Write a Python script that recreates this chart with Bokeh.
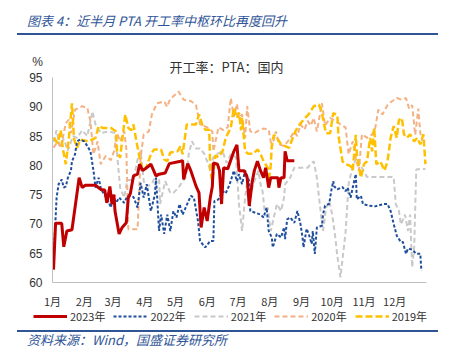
from bokeh.plotting import figure
from bokeh.models import Legend, LegendItem, Label, FixedTicker, Div, Range1d
from bokeh.layouts import column
from bokeh.embed import file_html
from bokeh.resources import INLINE

# ---------------- data (day of year, operating rate %) ----------------
month_ticks = [1, 32, 60, 91, 121, 152, 182, 213, 244, 274, 305, 335]
month_labels = ["1月", "2月", "3月", "4月", "5月", "6月", "7月", "8月", "9月", "10月", "11月", "12月"]
y_ticks = [60, 65, 70, 75, 80, 85, 90, 95]

series_names = ["2023年", "2022年", "2021年", "2020年", "2019年"]

days_2023 = [2, 4, 10, 12, 15, 20, 27, 30, 33, 43, 48, 52, 54, 57, 59, 61, 62, 66, 69, 73, 75, 77, 80, 84,
             86, 89, 95, 97, 102, 105, 111, 115, 126, 128, 129, 133, 136, 141, 144, 146, 149, 152, 155,
             157, 158, 162, 164, 166, 168, 172, 178, 181, 183, 188, 191, 193, 196, 198, 201, 204, 207,
             209, 212, 214, 221, 222, 224, 227, 228, 230, 237]
rate_2023 = [62.2, 70.1, 70.1, 66.1, 68.8, 69.0, 77.9, 76.2, 76.6, 76.6, 75.9, 75.8, 73.6, 76.4, 73.4,
             75.0, 72.2, 68.3, 69.4, 70.2, 74.5, 75.2, 78.2, 78.5, 80.2, 79.1, 79.9, 80.2, 78.2, 78.5,
             78.7, 80.3, 80.7, 80.8, 77.6, 80.3, 79.1, 76.5, 75.3, 69.4, 72.8, 70.5, 74.5, 76.4, 80.4,
             80.2, 79.1, 73.4, 79.6, 79.4, 82.4, 83.5, 79.1, 79.1, 77.9, 73.1, 77.3, 79.1, 80.7, 79.1,
             77.9, 79.6, 76.2, 77.9, 77.9, 76.2, 77.9, 77.9, 82.4, 80.8, 80.8]

days_2022 = [2, 5, 7, 10, 12, 14, 16, 19, 20, 23, 25, 28, 32, 35, 38, 41, 43, 46, 48, 51, 54, 58, 60, 63,
             66, 71, 74, 80, 84, 87, 90, 93, 97, 101, 102, 105, 107, 110, 113, 116, 119, 122, 125, 128,
             131, 136, 139, 143, 145, 150, 155, 158, 159, 163, 167, 170, 174, 178, 181, 183, 186, 189,
             193, 194, 199, 204, 207, 210, 212, 215, 216, 220, 224, 227, 228, 230, 233, 237, 240, 243,
             245, 246, 249, 251, 254, 255, 257, 259, 264, 265, 267, 271, 273, 275, 276, 279, 284, 287,
             289, 292, 294, 297, 298, 302, 304, 310, 316, 324, 328, 331, 334, 337, 341, 343, 346, 348,
             352, 356, 360, 361]
rate_2022 = [63.8, 74.5, 76.8, 77.6, 76.2, 76.4, 77.9, 79.1, 80.7, 81.9, 84.1, 84.4, 84.1, 83.3, 82.4,
             79.1, 76.2, 77.9, 76.2, 75.1, 74.5, 72.8, 74.8, 73.6, 74.5, 73.6, 74.8, 74.6, 72.8, 77.0,
             74.5, 76.8, 72.2, 75.1, 77.9, 68.8, 71.6, 68.3, 71.6, 68.8, 72.2, 71.1, 73.4, 71.6, 72.8,
             74.8, 74.5, 70.5, 67.1, 66.0, 67.1, 67.1, 73.9, 74.2, 75.6, 75.2, 76.8, 79.1, 77.3, 78.5,
             76.8, 79.1, 77.3, 72.2, 71.9, 71.6, 71.1, 72.8, 68.8, 67.7, 66.0, 68.3, 67.7, 69.4, 67.4,
             70.8, 71.1, 70.2, 72.2, 70.0, 67.7, 66.0, 69.2, 68.3, 66.6, 68.8, 64.9, 69.4, 69.7, 71.6,
             73.1, 73.4, 75.6, 77.3, 76.4, 75.9, 76.3, 75.6, 76.2, 74.5, 76.2, 78.5, 74.2, 74.8, 73.4,
             73.1, 73.0, 73.4, 73.4, 72.2, 70.0, 68.0, 66.9, 66.9, 64.9, 65.8, 65.6, 64.9, 64.9, 62.0]

days_2021 = [2, 5, 8, 12, 16, 21, 25, 30, 35, 40, 43, 48, 56, 62, 64, 67, 71, 74, 80, 84, 87, 90, 93, 98,
             102, 105, 106, 111, 116, 119, 124, 128, 131, 134, 137, 141, 145, 149, 152, 155, 158, 162,
             167, 171, 175, 180, 183, 186, 189, 191, 194, 198, 202, 204, 206, 208, 211, 214, 217, 220,
             224, 227, 228, 233, 237, 245, 250, 253, 256, 259, 263, 265, 268, 271, 274, 277, 279, 282,
             287, 290, 294, 298, 303, 308, 334, 336, 339, 341, 345, 348, 350, 352, 354, 356, 360, 365]
rate_2021 = [84.0, 86.0, 83.3, 84.5, 82.5, 85.0, 84.7, 86.0, 85.0, 89.2, 87.0, 85.5, 85.8, 85.5, 82.0,
             76.2, 74.5, 77.5, 77.5, 81.0, 82.5, 77.3, 76.4, 76.8, 78.5, 77.9, 73.4, 77.3, 75.3, 75.3,
             76.2, 77.3, 77.9, 81.9, 84.1, 82.9, 82.9, 82.0, 80.7, 79.1, 81.4, 82.0, 82.4, 80.4, 81.9,
             81.4, 73.4, 68.8, 74.5, 77.3, 75.1, 77.3, 79.1, 76.8, 75.6, 72.2, 72.8, 68.8, 71.1, 73.4,
             72.2, 74.5, 76.8, 77.9, 79.6, 79.6, 79.6, 80.2, 80.7, 77.9, 71.6, 68.8, 72.8, 73.9, 71.6,
             67.7, 64.5, 60.9, 68.5, 76.8, 79.9, 81.3, 79.6, 78.0, 78.0, 73.4, 72.3, 69.9, 71.6, 68.8,
             71.6, 62.6, 66.0, 79.3, 79.4, 79.4]

days_2020 = [2, 6, 9, 14, 17, 19, 23, 30, 35, 38, 41, 45, 48, 53, 58, 61, 64, 67, 71, 73, 75, 84, 87, 90,
             95, 98, 103, 110, 113, 115, 119, 124, 129, 136, 141, 145, 152, 157, 158, 163, 168, 172,
             175, 178, 181, 183, 186, 189, 191, 194, 198, 201, 204, 207, 212, 215, 219, 222, 227, 232,
             237, 240, 243, 247, 250, 253, 256, 259, 264, 267, 272, 277, 282, 287, 290, 294, 297, 300,
             303, 308, 313, 316, 319, 323, 328, 332, 337, 342, 346, 349, 352, 355, 358, 360, 362]
rate_2020 = [83.0, 84.1, 83.0, 87.2, 87.8, 85.5, 89.5, 90.1, 89.8, 87.5, 81.9, 84.1, 80.2, 81.6, 80.9,
             82.4, 85.5, 84.1, 85.8, 83.0, 69.1, 69.1, 81.3, 85.3, 85.8, 88.7, 90.6, 90.9, 90.0, 91.0,
             91.8, 92.6, 91.2, 91.0, 90.3, 87.0, 86.5, 85.8, 82.4, 86.5, 86.0, 86.5, 91.5, 88.3, 90.5,
             88.1, 88.7, 84.7, 90.1, 85.8, 85.5, 85.8, 86.1, 86.3, 86.1, 83.0, 85.8, 83.6, 83.3, 84.4,
             85.8, 85.0, 87.0, 86.1, 87.6, 86.8, 88.1, 85.8, 90.6, 86.8, 88.1, 87.6, 87.0, 86.5, 81.9,
             84.1, 81.3, 79.1, 85.3, 84.7, 85.3, 86.4, 89.5, 88.7, 90.3, 90.9, 91.5, 91.2, 91.5, 89.7,
             90.3, 85.2, 89.7, 85.5, 84.1]

days_2019 = [2, 6, 9, 11, 14, 17, 20, 22, 25, 28, 36, 43, 46, 50, 58, 63, 64, 67, 72, 75, 78, 80, 83, 86,
             89, 92, 97, 100, 107, 110, 113, 116, 123, 126, 128, 132, 141, 144, 147, 150, 154, 155, 157,
             160, 163, 167, 170, 175, 178, 181, 183, 185, 186, 189, 192, 197, 201, 204, 207, 211, 212,
             214, 215, 217, 220, 224, 228, 232, 235, 238, 241, 246, 251, 256, 261, 264, 266, 268, 272,
             275, 279, 280, 284, 287, 292, 294, 297, 298, 302, 305, 308, 311, 313, 315, 317, 321, 325,
             328, 331, 334, 337, 339, 342, 344, 347, 350, 354, 357, 360, 363, 365]
rate_2019 = [84.7, 83.8, 86.0, 83.0, 80.2, 84.7, 90.6, 84.5, 83.0, 84.4, 84.1, 84.7, 86.7, 86.4, 86.4,
             85.8, 82.4, 81.3, 88.7, 86.4, 86.0, 87.0, 84.0, 81.3, 79.1, 79.4, 81.9, 82.7, 82.7, 81.0,
             80.7, 82.2, 82.4, 83.3, 81.9, 87.0, 87.0, 88.7, 87.0, 86.1, 86.1, 79.1, 77.3, 81.7, 81.4,
             82.4, 84.7, 86.4, 89.8, 88.1, 89.0, 86.0, 88.1, 82.4, 82.0, 82.0, 82.7, 82.0, 80.7, 79.6,
             77.3, 80.0, 83.3, 85.2, 84.7, 83.6, 83.3, 83.0, 84.5, 85.8, 86.7, 87.8, 88.7, 90.1, 90.4,
             89.0, 87.0, 85.5, 85.5, 88.9, 88.6, 85.2, 80.7, 80.2, 79.9, 79.1, 85.2, 81.9, 77.9, 80.2,
             80.7, 84.7, 82.4, 86.4, 80.2, 80.7, 79.1, 80.7, 84.7, 86.7, 84.7, 87.7, 88.1, 85.3, 84.7,
             85.3, 84.1, 84.7, 83.6, 85.3, 80.2]

# ---------------- figure ----------------
FONT_CJK = "Noto Sans CJK SC"
BLUE_TXT = "#2F5597"
TXT = "#333333"

# frame covers the whole chart block; axes sit at fixed positions inside it
p = figure(width=435, height=290, output_backend="svg", toolbar_location=None,
           x_range=Range1d(-25.35, 382.6), y_range=Range1d(52.15, 98.76),
           min_border_left=17, min_border_right=0, min_border_top=17, min_border_bottom=0)
p.outline_line_color = None
p.grid.visible = False
p.background_fill_color = "white"
p.border_fill_color = "white"

xa = p.xaxis[0]
ya = p.yaxis[0]
xa.fixed_location = 60
ya.fixed_location = 1
xa.bounds = (1, 366)
ya.bounds = (60, 95)
ya.ticker = FixedTicker(ticks=y_ticks)
xa.ticker = FixedTicker(ticks=month_ticks)
xa.major_label_overrides = {t: l for t, l in zip(month_ticks, month_labels)}
for ax in (xa, ya):
    ax.axis_line_color = "#BFBFBF"
    ax.axis_line_width = 1
    ax.major_tick_line_color = None
    ax.minor_tick_line_color = None
    ax.major_tick_out = 0
    ax.major_tick_in = 0
    ax.major_label_standoff = 10
    ax.major_label_text_color = TXT
ya.major_label_text_font = "Liberation Sans"
ya.major_label_text_font_size = "12px"
xa.major_label_text_font = FONT_CJK
xa.major_label_text_font_size = "11px"

r2021 = p.line(days_2021, rate_2021, line_color="#C9C9C9", line_width=2, line_dash="5 3")
r2020 = p.line(days_2020, rate_2020, line_color="#F4B183", line_width=2, line_dash="5 3")
r2019 = p.line(days_2019, rate_2019, line_color="#FFC000", line_width=2.5, line_dash="7 3")
r2022 = p.line(days_2022, rate_2022, line_color="#1F4E9D", line_width=2, line_dash="3 2")
r2023 = p.line(days_2023, rate_2023, line_color="#C00000", line_width=3)

legend = Legend(items=[LegendItem(label=n, renderers=[r]) for n, r in
                       zip(series_names, [r2023, r2022, r2021, r2020, r2019])],
                orientation="horizontal", location=(8, 4),
                glyph_width=34, glyph_height=12, label_height=14, label_standoff=3, spacing=8,
                padding=0, margin=0, border_line_color=None, background_fill_alpha=0,
                label_text_font=FONT_CJK, label_text_font_size="11px", label_text_color=TXT)
p.add_layout(legend)

p.add_layout(Label(x=12, y=267, x_units="screen", y_units="screen", text="%",
                   text_align="center", text_baseline="middle", text_font="Liberation Sans",
                   text_font_size="12px", text_color=TXT))
p.add_layout(Label(x=201, y=262, x_units="screen", y_units="screen", text="开工率：PTA：国内",
                   text_align="center", text_baseline="middle", text_font=FONT_CJK,
                   text_font_size="13px", text_color=TXT))

header = Div(text=(
    '<div style="position:relative;width:435px;height:30px;">'
    '<div style="position:absolute;left:19px;top:5px;font-family:\'Noto Sans CJK SC\';font-style:italic;'
    'font-size:13px;line-height:15px;color:' + BLUE_TXT + ';white-space:nowrap;">'
    '图表 4：近半月 PTA 开工率中枢环比再度回升</div>'
    '<div style="position:absolute;left:9px;top:25px;width:421px;height:2px;background:#2F5597;"></div>'
    '</div>'), width=435, height=30, margin=0)

footer = Div(text=(
    '<div style="position:relative;width:435px;height:24px;">'
    '<div style="position:absolute;left:9px;top:2px;width:421px;height:2px;background:#2F5597;"></div>'
    '<div style="position:absolute;left:19px;top:5px;font-family:\'Noto Sans CJK SC\';font-style:italic;'
    'font-size:13px;line-height:14px;color:' + BLUE_TXT + ';white-space:nowrap;">'
    '资料来源：Wind，国盛证券研究所</div>'
    '</div>'), width=435, height=24, margin=0)

layout = column(header, p, footer, spacing=0, margin=(8, 8, 0, 8))

open("out.html", "w").write(file_html(layout, INLINE))
